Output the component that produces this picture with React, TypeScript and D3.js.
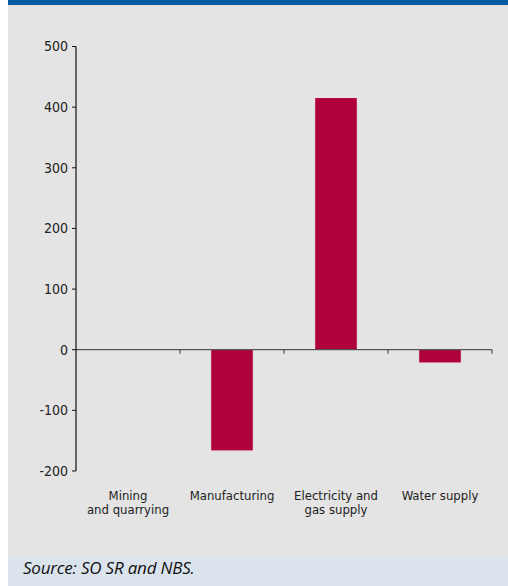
import React from "react";
import * as d3 from "d3";

const categories = ["Mining\nand quarrying", "Manufacturing", "Electricity and\ngas supply", "Water supply"];
const values = [0, -166, 415, -21];
const yTicks = [-200, -100, 0, 100, 200, 300, 400, 500];
const sourceText = "Source: SO SR and NBS.";

const W = 508;
const H = 586;
const FONT = "'DejaVu Sans Condensed', 'DejaVu Sans', sans-serif";

export default function App() {
  const x = d3.scaleBand<string>().domain(categories).range([76, 492]).paddingInner(0).paddingOuter(0);
  const y = d3.scaleLinear().domain([-200, 500]).range([471, 46.5]);
  const bw = x.bandwidth() * 0.4;
  const y0 = y(0);
  return (
    <svg width={W} height={H} style={{ position: "absolute", left: 0, top: 0 }}>
      <rect x={8} y={0} width={W - 8} height={H} fill="#e4e4e4" />
      <rect x={8} y={0} width={W - 8} height={5} fill="#005da3" />
      <rect x={8} y={558} width={W - 8} height={H - 558} fill="#dbe3ed" />
      {categories.map((c, i) => {
        const v = values[i];
        const cx = (x(c) as number) + x.bandwidth() / 2;
        return (
          <rect key={c} x={cx - bw / 2} y={Math.min(y(v), y0)} width={bw} height={Math.abs(y(v) - y0)} fill="#b0003a" />
        );
      })}
      <line x1={76} x2={492} y1={y0} y2={y0} stroke="#555" strokeWidth={1.2} />
      {categories.map((c, i) => {
        const xx = (x(c) as number) + x.bandwidth();
        return <line key={"t" + i} x1={xx} x2={xx} y1={y0} y2={y0 + 4} stroke="#333" strokeWidth={1} />;
      })}
      <line x1={76} x2={76} y1={y(500)} y2={y(-200)} stroke="#111" strokeWidth={1.2} />
      {yTicks.map((t) => (
        <g key={t}>
          <line x1={72} x2={76} y1={y(t)} y2={y(t)} stroke="#111" strokeWidth={1} />
          <text x={68} y={y(t)} dy="0.35em" textAnchor="end" fontFamily={FONT} fontSize={14} fill="#222">
            {t}
          </text>
        </g>
      ))}
      {categories.map((c) => {
        const cx = (x(c) as number) + x.bandwidth() / 2;
        const lines = c.split("\n");
        return (
          <text key={"l" + c} x={cx} y={500} textAnchor="middle" fontFamily={FONT} fontSize={13} fill="#222">
            {lines.map((l, j) => (
              <tspan key={j} x={cx} dy={j === 0 ? 0 : 13.5}>
                {l}
              </tspan>
            ))}
          </text>
        );
      })}
      <text x={23} y={574} fontFamily="'Open Sans', 'Noto Sans', sans-serif" fontStyle="italic" fontSize={17} fill="#111" letterSpacing={-0.2}>
        {sourceText}
      </text>
    </svg>
  );
}
